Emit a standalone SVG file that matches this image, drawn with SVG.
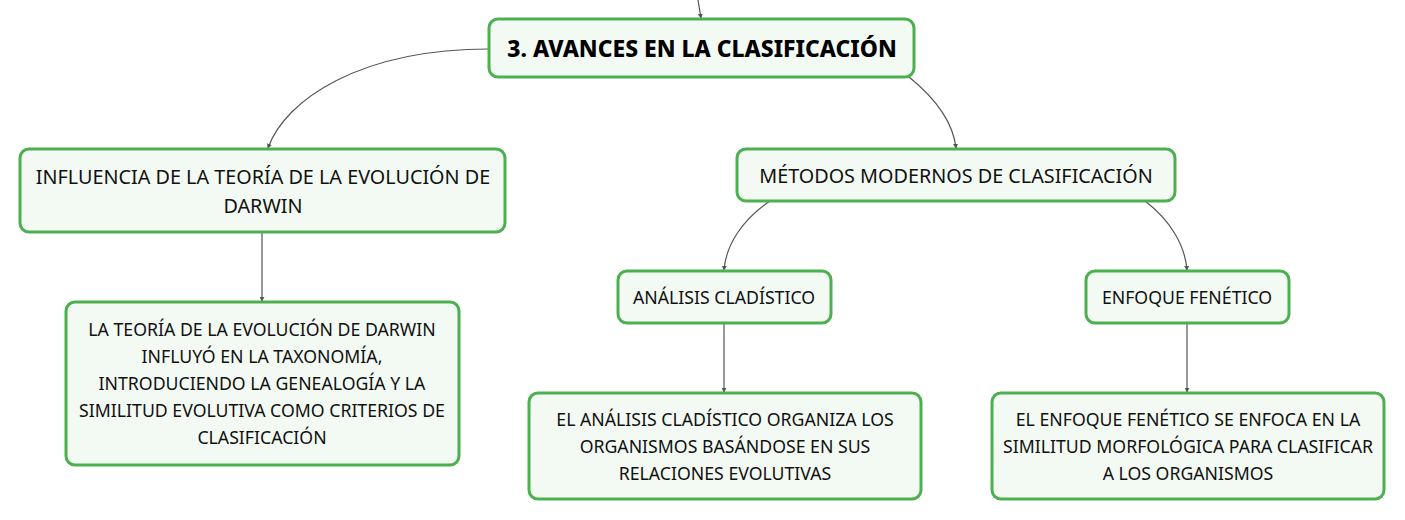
<svg xmlns="http://www.w3.org/2000/svg" width="1405" height="520" viewBox="0 0 1405 520">
<style>
.box{fill:#f3faf3;stroke:#4caf50;stroke-width:3}
.t{font-family:"Noto Sans",Lato,sans-serif;font-size:17.7px;fill:#111;text-anchor:middle;dominant-baseline:central}
.t2{font-family:"Noto Sans",Lato,sans-serif;font-size:19.8px;fill:#111;text-anchor:middle;dominant-baseline:central}
.h{font-family:"Noto Sans",Lato,sans-serif;font-size:22.9px;font-weight:800;fill:#000;text-anchor:middle;dominant-baseline:central}
.c{fill:none;stroke:#555;stroke-width:1.2;marker-end:url(#a)}
</style>
<defs>
<marker id="a" viewBox="0 0 6 6" refX="5" refY="3" markerWidth="5" markerHeight="5" orient="auto" markerUnits="userSpaceOnUse"><path d="M0,0 L6,3 L0,6 z" fill="#555"/></marker>
</defs>
<g id="connectors">
<path class="c" d="M698,0 L701,18"/>
<path class="c" d="M489,49 C360,49 285,100 268,148"/>
<path class="c" d="M909,77 C935,98 953,122 956,148"/>
<path class="c" d="M262,232 L262,301"/>
<path class="c" d="M770,201 C742,220 726,245 724,270"/>
<path class="c" d="M1145,201 C1170,220 1185,245 1187,270"/>
<path class="c" d="M724,323 L724,392"/>
<path class="c" d="M1187,323 L1187,392"/>
</g>
<g id="main">
<rect class="box" x="489" y="19" width="425" height="58" rx="9"/>
<text class="h" x="702" y="48">3. AVANCES EN LA CLASIFICACIÓN</text>
</g>
<g id="influencia">
<rect class="box" x="20" y="149" width="485" height="83" rx="9"/>
<text class="t2" x="263" y="176">INFLUENCIA DE LA TEORÍA DE LA EVOLUCIÓN DE</text>
<text class="t2" x="263" y="205">DARWIN</text>
</g>
<g id="influencia-desc">
<rect class="box" x="66" y="302" width="393" height="163" rx="9"/>
<text class="t" x="262" y="329">LA TEORÍA DE LA EVOLUCIÓN DE DARWIN</text>
<text class="t" x="262" y="356">INFLUYÓ EN LA TAXONOMÍA,</text>
<text class="t" x="262" y="383">INTRODUCIENDO LA GENEALOGÍA Y LA</text>
<text class="t" x="262" y="410">SIMILITUD EVOLUTIVA COMO CRITERIOS DE</text>
<text class="t" x="262" y="437">CLASIFICACIÓN</text>
</g>
<g id="metodos">
<rect class="box" x="737" y="149" width="438" height="52" rx="9"/>
<text class="t2" x="956" y="175">MÉTODOS MODERNOS DE CLASIFICACIÓN</text>
</g>
<g id="analisis">
<rect class="box" x="618" y="271" width="213" height="52" rx="9"/>
<text class="t" x="724" y="297">ANÁLISIS CLADÍSTICO</text>
</g>
<g id="analisis-desc">
<rect class="box" x="529" y="393" width="392" height="106" rx="9"/>
<text class="t" x="725" y="419">EL ANÁLISIS CLADÍSTICO ORGANIZA LOS</text>
<text class="t" x="725" y="446">ORGANISMOS BASÁNDOSE EN SUS</text>
<text class="t" x="725" y="473">RELACIONES EVOLUTIVAS</text>
</g>
<g id="enfoque">
<rect class="box" x="1086" y="271" width="203" height="52" rx="9"/>
<text class="t" x="1187" y="297">ENFOQUE FENÉTICO</text>
</g>
<g id="enfoque-desc">
<rect class="box" x="992" y="393" width="392" height="106" rx="9"/>
<text class="t" x="1188" y="419">EL ENFOQUE FENÉTICO SE ENFOCA EN LA</text>
<text class="t" x="1188" y="446">SIMILITUD MORFOLÓGICA PARA CLASIFICAR</text>
<text class="t" x="1188" y="473">A LOS ORGANISMOS</text>
</g>
</svg>
